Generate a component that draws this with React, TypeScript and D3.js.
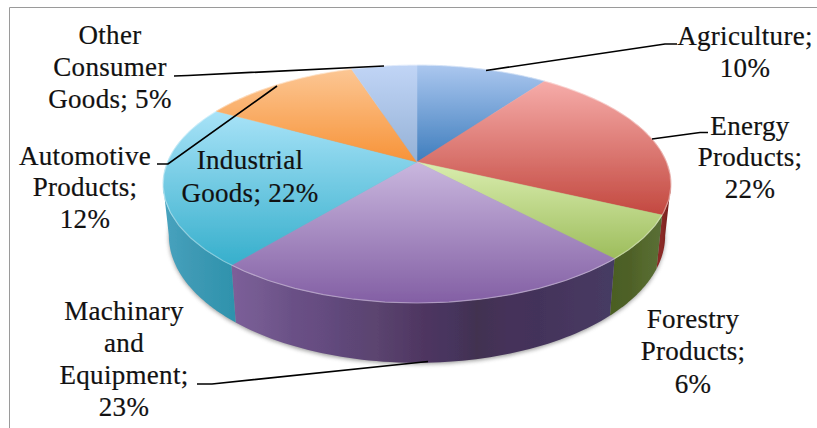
import React from "react";
import * as d3 from "d3";

// Export shares by sector, clockwise from twelve o'clock.
const categories = [
  "Agriculture",
  "Energy Products",
  "Forestry Products",
  "Machinary and Equipment",
  "Industrial Goods",
  "Automotive Products",
  "Other Consumer Goods",
];
const shares = [10, 22, 6, 23, 22, 12, 5];

// Wrapped label text; {v} is replaced by the slice's share.
const labelLines = [
  ["Agriculture;", "{v}%"],
  ["Energy", "Products;", "{v}%"],
  ["Forestry", "Products;", "{v}%"],
  ["Machinary", "and", "Equipment;", "{v}%"],
  ["Industrial", "Goods; {v}%"],
  ["Automotive", "Products;", "{v}%"],
  ["Other", "Consumer", "Goods; {v}%"],
];

const W = 817;
const H = 428;
const apex = { x: 417, y: 162 };

// Perspective tilt of the pie disc.
const tilt = { a: 249.6, b: 114.9, k: 0.185 };
const rim = { sx: 0.977, sy: 1.07, drop: 50 };

type Pt = [number, number];
const topPoint = (t: number): Pt => {
  const w = 1 + tilt.k * Math.cos(t);
  return [
    apex.x + (tilt.a * Math.sin(t)) / w,
    apex.y - (tilt.b * Math.cos(t)) / w,
  ];
};
const bottomPoint = (t: number): Pt => {
  const [x, y] = topPoint(t);
  return [
    apex.x + (x - apex.x) * rim.sx,
    apex.y + (y - apex.y) * rim.sy + rim.drop,
  ];
};

// The wall is visible between the two horizontal extremes of the disc.
const wallStart = Math.acos(-tilt.k);
const wallEnd = 2 * Math.PI - wallStart;

const sampleAngles = (a0: number, a1: number): number[] =>
  d3.range(0, 61).map((i) => a0 + ((a1 - a0) * i) / 60);

const linePath = d3.line<Pt>().x((d) => d[0]).y((d) => d[1]);

const slices = d3
  .pie<number>()
  .sort(null)
  .startAngle(0)
  .endAngle(2 * Math.PI)(shares);

// [top colour, bottom colour] of each face gradient and its vertical extent.
const faceColors = [
  { c0: "#abc7ef", c1: "#3e7dbd", y0: 65, y1: 162 },
  { c0: "#f5aaa7", c1: "#c0433a", y0: 84, y1: 222 },
  { c0: "#d9edae", c1: "#9bbb59", y0: 163, y1: 262 },
  { c0: "#c9b7de", c1: "#835fa4", y0: 162, y1: 303 },
  { c0: "#a9e3f8", c1: "#34aecb", y0: 110, y1: 268 },
  { c0: "#fcc693", c1: "#f79338", y0: 70, y1: 162 },
  { c0: "#c1d5f6", c1: "#94b1d6", y0: 65, y1: 162 },
];

// Horizontal shading stops of the side walls, by slice.
const wallStops: Record<number, [number, string][]> = {
  1: [[0, "#8a2a26"], [1, "#6f1d1b"]],
  2: [[0, "#4b5f24"], [0.35, "#4f6128"], [0.7, "#566b2f"], [1, "#5a6e36"]],
  3: [
    [0, "#7c5e99"], [0.08, "#745a90"], [0.16, "#6a5086"], [0.24, "#654c80"],
    [0.3, "#5e4678"], [0.38, "#5b446f"], [0.46, "#523a66"], [0.5, "#4f3661"],
    [0.58, "#46345d"], [0.64, "#423250"], [0.72, "#45325a"], [0.8, "#43335a"],
    [0.9, "#47375f"], [1, "#453b63"],
  ],
  4: [[0, "#48a3bf"], [0.4, "#3f9ab5"], [1, "#2f93ad"]],
};

// Leader lines from the rim to each outer label.
const leaders: (Pt[] | null)[] = [
  [[486, 70.5], [665, 44], [677, 44]],
  [[652, 139], [700, 132.5], [708, 132.5]],
  null,
  [[428, 361.5], [212, 384], [197, 384]],
  null,
  [[277, 86], [168, 164], [157, 164]],
  [[384, 66], [188, 75.5], [174, 76]],
];

// Label anchors: centre x and the baseline of every line.
const labelPos: { x: number; ys: number[] }[] = [
  { x: 745, ys: [45, 77] },
  { x: 750, ys: [135, 166, 198] },
  { x: 693, ys: [328, 360, 393] },
  { x: 124, ys: [320, 352, 384, 416] },
  { x: 250, ys: [169, 202] },
  { x: 85, ys: [165, 196, 228] },
  { x: 110, ys: [44, 76, 108] },
];

export default function App() {
  const outline: Pt[] = sampleAngles(0, 2 * Math.PI).map(topPoint);
  const shadowOutline: Pt[] = sampleAngles(0, 2 * Math.PI).map(bottomPoint);
  return (
    <svg
      width={W}
      height={H}
      viewBox={`0 0 ${W} ${H}`}
      style={{ position: "absolute", left: 0, top: 0, background: "#fff" }}
    >
      <defs>
        <filter id="softShadow" x="-10%" y="-10%" width="120%" height="120%">
          <feGaussianBlur stdDeviation="2" />
        </filter>
        <filter id="soften" x="-5%" y="-5%" width="110%" height="110%">
          <feGaussianBlur stdDeviation="0.45" />
        </filter>
        {slices.map((s, i) => (
          <linearGradient
            key={i}
            id={`face${i}`}
            gradientUnits="userSpaceOnUse"
            x1={0}
            x2={0}
            y1={faceColors[i].y0}
            y2={faceColors[i].y1}
          >
            <stop offset="0" stopColor={faceColors[i].c0} />
            <stop offset="1" stopColor={faceColors[i].c1} />
          </linearGradient>
        ))}
        {slices.map((s, i) => {
          const stops = wallStops[i];
          if (!stops) return null;
          const a0 = Math.max(s.startAngle, wallStart);
          const a1 = Math.min(s.endAngle, wallEnd);
          return (
            <linearGradient
              key={i}
              id={`wall${i}`}
              gradientUnits="userSpaceOnUse"
              x1={topPoint(a1)[0]}
              x2={topPoint(a0)[0]}
              y1={0}
              y2={0}
            >
              {stops.map(([o, c], j) => (
                <stop key={j} offset={o} stopColor={c} />
              ))}
            </linearGradient>
          );
        })}
      </defs>

      {/* chart frame */}
      <path d="M9.5 428V7.5H817" fill="none" stroke="#9a9a9a" strokeWidth={1} />

      {/* soft ground shadow */}
      <path
        d={linePath(shadowOutline.map(([x, y]) => [x, y + 1.5] as Pt)) + "Z"}
        fill="#6d6d6d"
        opacity={0.7}
        filter="url(#softShadow)"
      />

      <g filter="url(#soften)">
        {/* side walls */}
        {slices.map((s, i) => {
          if (!wallStops[i]) return null;
          const a0 = Math.max(s.startAngle, wallStart);
          const a1 = Math.min(s.endAngle, wallEnd);
          const angles = sampleAngles(a0, a1);
          const pts: Pt[] = [
            ...angles.map(topPoint),
            ...angles.slice().reverse().map(bottomPoint),
          ];
          return <path key={i} d={linePath(pts) + "Z"} fill={`url(#wall${i})`} />;
        })}

        {/* top faces */}
        {slices.map((s, i) => {
          const pts: Pt[] = [
            [apex.x, apex.y],
            ...sampleAngles(s.startAngle, s.endAngle).map(topPoint),
          ];
          return (
            <path
              key={i}
              d={linePath(pts) + "Z"}
              fill={`url(#face${i})`}
              stroke={`url(#face${i})`}
              strokeWidth={0.5}
            />
          );
        })}

        {/* pale bevel along the rim */}
        <path
          d={linePath(outline) + "Z"}
          fill="none"
          stroke="#ffffff"
          strokeOpacity={0.35}
          strokeWidth={1.2}
        />
      </g>

      {/* leader lines */}
      {leaders.map((pts, i) =>
        pts ? (
          <path
            key={i}
            d={linePath(pts) ?? ""}
            fill="none"
            stroke="#000"
            strokeWidth={1.7}
          />
        ) : null
      )}

      {/* labels */}
      <g
        fontFamily="'Liberation Serif', serif"
        fontSize={27}
        letterSpacing={0.3}
        fill="#111"
        stroke="#111"
        strokeWidth={0.2}
        textAnchor="middle"
      >
        {categories.map((name, i) =>
          labelLines[i].map((line, j) => (
            <text key={`${name}-${j}`} x={labelPos[i].x} y={labelPos[i].ys[j]}>
              {line.replace("{v}", String(shares[i]))}
            </text>
          ))
        )}
      </g>
    </svg>
  );
}
